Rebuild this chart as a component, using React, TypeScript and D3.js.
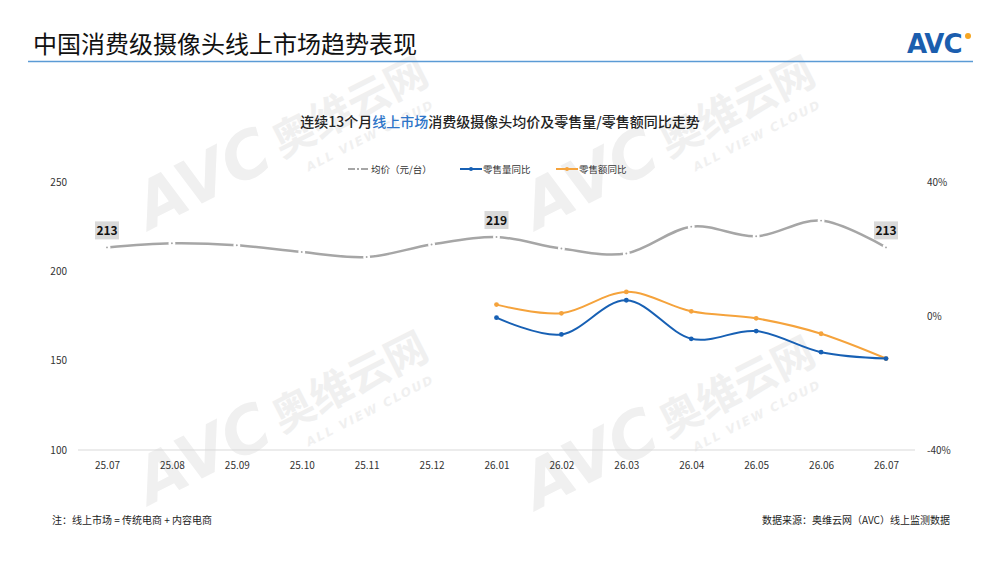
import { useEffect, useRef } from "react";
import * as d3 from "d3";

const months = ["25.07", "25.08", "25.09", "25.10", "25.11", "25.12", "26.01", "26.02", "26.03", "26.04", "26.05", "26.06", "26.07"];
// 均价（元/台）
const avgPrice = [213.4, 215.7, 214.6, 210.8, 208, 215, 219.2, 212.8, 210, 225, 219.6, 228.4, 213.4];
// 零售量同比 (from 26.01)
const volumeYoY = [null, null, null, null, null, null, -0.005, -0.055, 0.047, -0.068, -0.045, -0.108, -0.127];
// 零售额同比 (from 26.01)
const valueYoY = [null, null, null, null, null, null, 0.034, 0.008, 0.072, 0.014, -0.007, -0.053, -0.127];
const labelIdx = [0, 6, 12];
const leftTicks = [100, 150, 200, 250];
const rightTicks = [-0.4, 0, 0.4];

const FONT = "'Liberation Sans Narrow', 'Noto Sans CJK SC', sans-serif";
const CJK = "'Noto Sans CJK SC', sans-serif";
const GRAY = "#a6a6a6";
const BLUE = "#1760b4";
const ORANGE = "#f5a33c";

export default function App() {
  const ref = useRef<SVGSVGElement | null>(null);

  useEffect(() => {
    if (!ref.current) return;
    const svg = d3.select(ref.current);
    svg.selectAll("*").remove();

    svg.append("rect").attr("width", 1000).attr("height", 562).attr("fill", "#fff");

    // watermarks
    const marks = [[150, 230], [537, 230], [150, 505], [537, 510]];
    marks.forEach(([mx, my]) => {
      const g = svg.append("g").attr("transform", `translate(${mx},${my}) rotate(-27)`).attr("fill", "#f0f0f0");
      g.append("text").attr("x", 0).attr("y", 0).attr("font-family", "'DejaVu Sans', sans-serif")
        .attr("font-weight", 700).attr("font-style", "italic").attr("font-size", 64).text("AVC");
      g.append("text").attr("x", 150).attr("y", -4).attr("font-family", CJK)
        .attr("font-weight", 700).attr("font-size", 42).text("奥维云网");
      g.append("text").attr("x", 168).attr("y", 20).attr("font-family", "'DejaVu Sans', sans-serif")
        .attr("font-weight", 700).attr("font-style", "italic").attr("font-size", 12).attr("letter-spacing", 2).text("ALL VIEW CLOUD");
    });

    // header
    svg.append("text").attr("x", 33).attr("y", 53).attr("font-family", CJK).attr("font-size", 24)
      .attr("fill", "#111").text("中国消费级摄像头线上市场趋势表现");
    svg.append("line").attr("x1", 28).attr("x2", 973).attr("y1", 61.5).attr("y2", 61.5)
      .attr("stroke", "#5b9bd5").attr("stroke-width", 1.5);
    svg.append("text").attr("x", 907).attr("y", 53).attr("font-family", "'DejaVu Sans', sans-serif")
      .attr("font-weight", 700).attr("font-size", 26).attr("letter-spacing", -1).attr("fill", "#1b5eae").text("AVC");
    svg.append("circle").attr("cx", 968).attr("cy", 36).attr("r", 3).attr("fill", "#f5a623");

    // subtitle
    const sub = svg.append("text").attr("x", 500).attr("y", 127).attr("text-anchor", "middle")
      .attr("font-family", CJK).attr("font-weight", 500).attr("font-size", 14).attr("fill", "#222");
    sub.append("tspan").text("连续13个月");
    sub.append("tspan").attr("fill", "#2e75c8").text("线上市场");
    sub.append("tspan").text("消费级摄像头均价及零售量/零售额同比走势");

    // legend
    const legend = [
      { name: "均价（元/台）", color: GRAY, x: 348, dash: "7,2,2,2" },
      { name: "零售量同比", color: BLUE, x: 460, dash: null },
      { name: "零售额同比", color: ORANGE, x: 556, dash: null },
    ];
    legend.forEach(l => {
      svg.append("line").attr("x1", l.x).attr("x2", l.x + 22).attr("y1", 169).attr("y2", 169)
        .attr("stroke", l.color).attr("stroke-width", 2).attr("stroke-dasharray", l.dash);
      if (l.dash === null) svg.append("circle").attr("cx", l.x + 11).attr("cy", 169).attr("r", 2).attr("fill", l.color);
      svg.append("text").attr("x", l.x + 23).attr("y", 172.5).attr("font-family", CJK).attr("font-size", 9.5)
        .attr("fill", "#333").text(l.name);
    });

    // scales
    const x = d3.scalePoint<string>().domain(months).range([107, 886]);
    const yL = d3.scaleLinear().domain([100, 250]).range([450, 182]);
    const yR = d3.scaleLinear().domain([-0.4, 0.4]).range([450, 182]);

    svg.append("line").attr("x1", 78).attr("x2", 915).attr("y1", 450).attr("y2", 450)
      .attr("stroke", "#d9d9d9").attr("stroke-width", 1);

    const left = svg.append("g").attr("transform", "translate(67,0)")
      .call(d3.axisLeft(yL).tickValues(leftTicks).tickSize(0).tickPadding(0));
    const right = svg.append("g").attr("transform", "translate(927,0)")
      .call(d3.axisRight(yR).tickValues(rightTicks).tickSize(0).tickPadding(0).tickFormat(d => `${Math.round(+d * 100)}%`));
    const bottom = svg.append("g").attr("transform", "translate(0,462)")
      .call(d3.axisBottom(x).tickSize(0).tickPadding(0));
    [left, right, bottom].forEach(a => {
      a.select(".domain").remove();
      a.selectAll("text").attr("font-family", FONT).attr("font-size", 10).attr("fill", "#333");
    });

    const curve = d3.curveCardinal.tension(0);

    // average price line
    const priceLine = d3.line<number>().x((_, i) => x(months[i])!).y(d => yL(d)).curve(curve);
    svg.append("path").datum(avgPrice).attr("fill", "none").attr("stroke", GRAY)
      .attr("stroke-width", 2.5).attr("d", priceLine);
    svg.append("g").selectAll("circle").data(avgPrice).join("circle")
      .attr("cx", (_, i) => x(months[i])!).attr("cy", d => yL(d)).attr("r", 2.2)
      .attr("fill", GRAY).attr("stroke", "#fff").attr("stroke-width", 2.5);

    // YoY lines
    const yoy = [
      { data: valueYoY, color: ORANGE },
      { data: volumeYoY, color: BLUE },
    ];
    yoy.forEach(s => {
      const pts = s.data.map((v, i) => ({ m: months[i], v })).filter(p => p.v !== null) as { m: string; v: number }[];
      const ln = d3.line<{ m: string; v: number }>().x(d => x(d.m)!).y(d => yR(d.v)).curve(curve);
      svg.append("path").datum(pts).attr("fill", "none").attr("stroke", s.color)
        .attr("stroke-width", 2).attr("d", ln);
      svg.append("g").selectAll("circle").data(pts).join("circle")
        .attr("cx", d => x(d.m)!).attr("cy", d => yR(d.v)).attr("r", 2.4).attr("fill", s.color);
    });

    // data labels
    labelIdx.forEach(i => {
      const cx = x(months[i])!;
      const cy = yL(avgPrice[i]);
      svg.append("rect").attr("x", cx - 12).attr("y", cy - 26).attr("width", 24).attr("height", 18)
        .attr("fill", "#d9d9d9");
      svg.append("text").attr("x", cx).attr("y", cy - 12.5).attr("text-anchor", "middle")
        .attr("font-family", FONT).attr("font-weight", 700).attr("font-size", 12).attr("fill", "#111")
        .text(d3.format(".0f")(avgPrice[i]));
    });

    // footer
    svg.append("text").attr("x", 52).attr("y", 524).attr("font-family", CJK).attr("font-size", 10)
      .attr("fill", "#222").text("注：线上市场 = 传统电商 + 内容电商");
    svg.append("text").attr("x", 950).attr("y", 524).attr("text-anchor", "end").attr("font-family", CJK)
      .attr("font-size", 10).attr("fill", "#222").text("数据来源：奥维云网（AVC）线上监测数据");
  }, []);

  return (
    <div style={{ position: "absolute", left: 0, top: 0 }}>
      <svg ref={ref} width={1000} height={562} style={{ display: "block" }} />
    </div>
  );
}
